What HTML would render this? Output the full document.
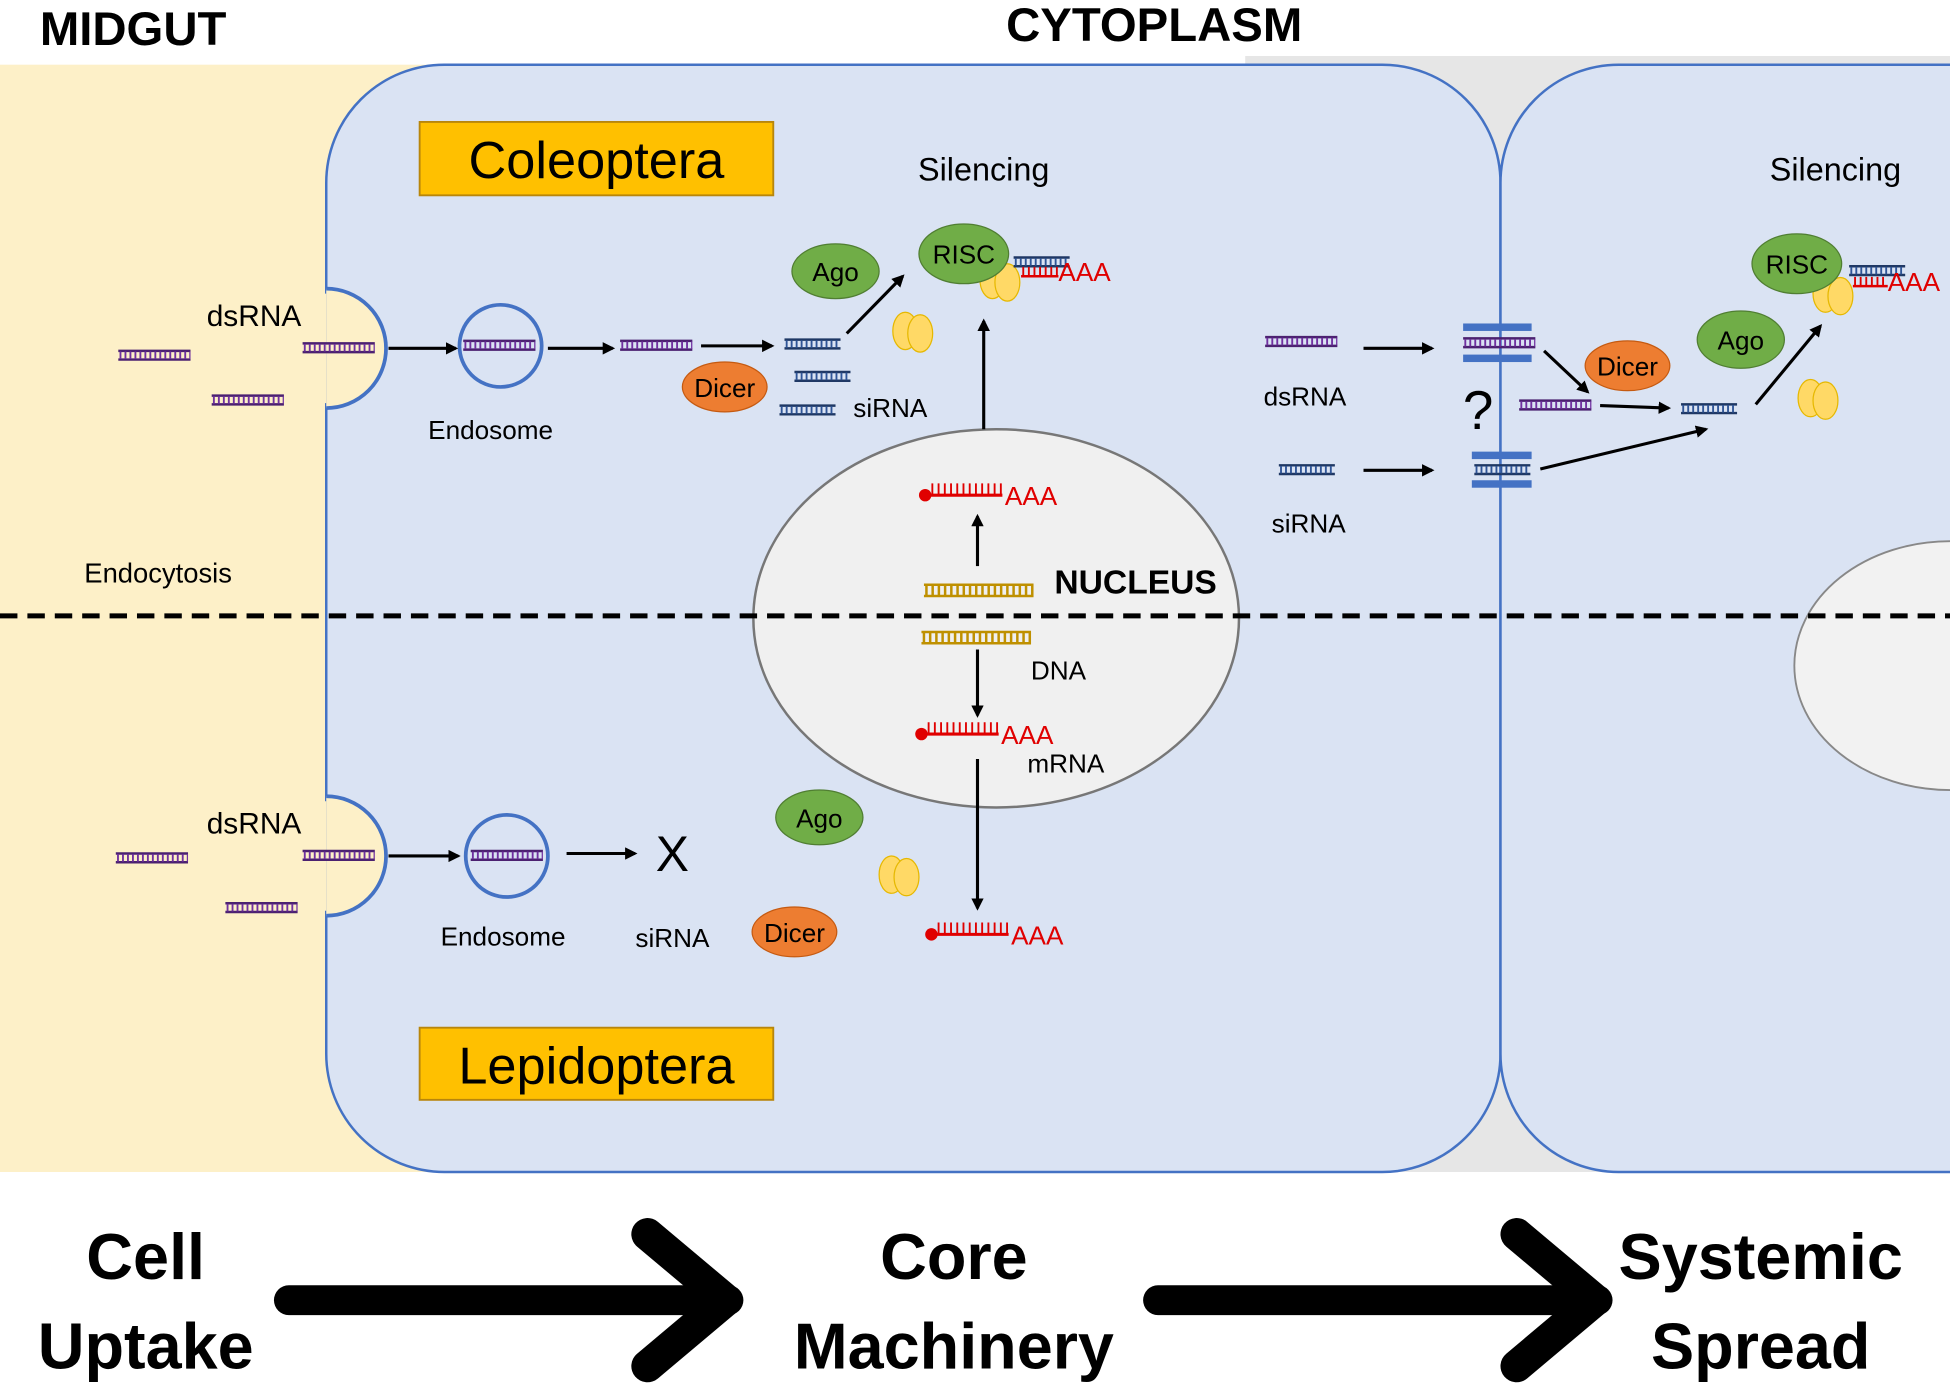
<!DOCTYPE html>
<html><head><meta charset="utf-8"><style>
html,body{margin:0;padding:0;background:#fff}
svg{display:block}
text{font-family:"Liberation Sans",sans-serif}
</style></head><body>
<svg width="1950" height="1386" viewBox="0 0 1566 1114" preserveAspectRatio="none" xmlns="http://www.w3.org/2000/svg">
<defs>
<marker id="ah" markerWidth="10" markerHeight="10" refX="8" refY="5" orient="auto" markerUnits="userSpaceOnUse"><path d="M0,0 L10,5 L0,10 z" fill="#000"/></marker>
<g id="ds"><line x1="0" y1="0" x2="58" y2="0" stroke="#4b2170" stroke-width="2"/><line x1="0" y1="7" x2="58" y2="7" stroke="#4b2170" stroke-width="2"/><line x1="1" y1="3.5" x2="58" y2="3.5" stroke="#7030a0" stroke-width="6" stroke-dasharray="1.5 2.5"/></g>
<g id="si"><line x1="0" y1="0" x2="45" y2="0" stroke="#1f3864" stroke-width="2"/><line x1="0" y1="7" x2="45" y2="7" stroke="#1f3864" stroke-width="2"/><line x1="1" y1="3.5" x2="45" y2="3.5" stroke="#2f5597" stroke-width="6" stroke-dasharray="1.5 2.5"/></g>
<g id="dna"><line x1="0" y1="0" x2="88" y2="0" stroke="#bf9000" stroke-width="2"/><line x1="0" y1="9" x2="88" y2="9" stroke="#bf9000" stroke-width="2"/><line x1="1" y1="4.5" x2="88" y2="4.5" stroke="#bf9000" stroke-width="8" stroke-dasharray="2 3"/></g>
<g id="mr"><circle cx="0" cy="0" r="5" fill="#e00000"/><line x1="0" y1="0" x2="62" y2="0" stroke="#e00000" stroke-width="2.5"/><line x1="5" y1="-5" x2="62" y2="-5" stroke="#e00000" stroke-width="9" stroke-dasharray="1.5 3.5"/><text x="64" y="8" font-size="21" fill="#e00000">AAA</text></g>
<g id="rib"><ellipse cx="-6" cy="0" rx="10" ry="15" fill="#ffd966" stroke="#e6b800"/><ellipse cx="6" cy="2" rx="10" ry="15" fill="#ffd966" stroke="#e6b800"/></g>
</defs>
<rect x="0" y="52" width="380" height="890" fill="#fdf0c8"/>
<rect x="1000" y="45" width="566" height="897" fill="#e6e6e6"/>
<rect x="262" y="52" width="943" height="890" rx="95" fill="#dae3f3" stroke="#4472c4" stroke-width="2"/>
<rect x="1205" y="52" width="460" height="890" rx="95" fill="#dae3f3" stroke="#4472c4" stroke-width="2"/>
<ellipse cx="1566" cy="535" rx="125" ry="100" fill="#f2f2f2" stroke="#888" stroke-width="1.5"/>
<ellipse cx="800" cy="497" rx="195" ry="152" fill="#f0f0f0" stroke="#777" stroke-width="2"/>
<!-- pits -->
<path d="M262,232 A48,48 0 0 1 262,328" fill="#fdf0c8" stroke="#4472c4" stroke-width="3"/>
<path d="M262,640 A48,48 0 0 1 262,736" fill="#fdf0c8" stroke="#4472c4" stroke-width="3"/>
<rect x="258" y="236" width="4" height="88" fill="#fdf0c8"/>
<rect x="258" y="644" width="4" height="88" fill="#fdf0c8"/>
<circle cx="402" cy="278" r="33" fill="#dae3f3" stroke="#4472c4" stroke-width="3"/>
<circle cx="407" cy="688" r="33" fill="#dae3f3" stroke="#4472c4" stroke-width="3"/>
<line x1="0" y1="495" x2="1566" y2="495" stroke="#000" stroke-width="4" stroke-dasharray="14 8"/>
<!-- labels -->
<text x="32" y="36" font-size="38" font-weight="bold">MIDGUT</text>
<text x="808" y="33" font-size="38" font-weight="bold">CYTOPLASM</text>
<rect x="337" y="98" width="284" height="59" fill="#ffc000" stroke="#b8860b" stroke-width="1.5"/>
<text x="479" y="143" font-size="42" text-anchor="middle">Coleoptera</text>
<rect x="337" y="826" width="284" height="58" fill="#ffc000" stroke="#b8860b" stroke-width="1.5"/>
<text x="479" y="871" font-size="42" text-anchor="middle">Lepidoptera</text>
<!-- top row -->
<use href="#ds" x="95" y="282"/><use href="#ds" x="170" y="318"/><use href="#ds" x="243" y="276"/>
<use href="#ds" x="372" y="274"/><use href="#ds" x="498" y="274"/>
<use href="#si" x="630" y="273"/><use href="#si" x="638" y="299"/><use href="#si" x="626" y="326"/>
<text x="204" y="262" font-size="24" text-anchor="middle">dsRNA</text>
<text x="394" y="353" font-size="21" text-anchor="middle">Endosome</text>
<text x="715" y="335" font-size="21" text-anchor="middle">siRNA</text>
<text x="790" y="145" font-size="26" text-anchor="middle">Silencing</text>
<text x="127" y="468" font-size="22" text-anchor="middle">Endocytosis</text>
<line x1="312" y1="280" x2="366" y2="280" stroke="#000" stroke-width="2.5" marker-end="url(#ah)"/>
<line x1="440" y1="280" x2="492" y2="280" stroke="#000" stroke-width="2.5" marker-end="url(#ah)"/>
<line x1="563" y1="278" x2="620" y2="278" stroke="#000" stroke-width="2.5" marker-end="url(#ah)"/>
<line x1="680" y1="268" x2="725" y2="222" stroke="#000" stroke-width="2.5" marker-end="url(#ah)"/>
<ellipse cx="582" cy="311" rx="34" ry="20" fill="#ed7d31" stroke="#c55a11"/><text x="582" y="319" font-size="21" text-anchor="middle">Dicer</text>
<ellipse cx="671" cy="218" rx="35" ry="22" fill="#70ad47" stroke="#507e32"/><text x="671" y="226" font-size="21" text-anchor="middle">Ago</text>
<use href="#rib" x="733" y="266"/><use href="#rib" x="803" y="225"/>
<ellipse cx="774" cy="204" rx="36" ry="24" fill="#70ad47" stroke="#507e32"/><text x="774" y="212" font-size="21" text-anchor="middle">RISC</text>
<use href="#si" x="814" y="207"/>
<g transform="translate(820,222)"><line x1="0" y1="0" x2="30" y2="0" stroke="#e00000" stroke-width="2"/><line x1="1" y1="-4" x2="30" y2="-4" stroke="#e00000" stroke-width="7" stroke-dasharray="1.5 3"/><text x="30" y="4" font-size="21" fill="#e00000">AAA</text></g>
<!-- nucleus -->
<line x1="790" y1="345" x2="790" y2="258" stroke="#000" stroke-width="2.5" marker-end="url(#ah)"/>
<use href="#mr" x="743" y="398"/>
<line x1="785" y1="455" x2="785" y2="415" stroke="#000" stroke-width="2.5" marker-end="url(#ah)"/>
<use href="#dna" x="742" y="470"/><use href="#dna" x="740" y="508"/>
<text x="912" y="477" font-size="27" font-weight="bold" text-anchor="middle">NUCLEUS</text>
<text x="850" y="546" font-size="21" text-anchor="middle">DNA</text>
<line x1="785" y1="522" x2="785" y2="575" stroke="#000" stroke-width="2.5" marker-end="url(#ah)"/>
<use href="#mr" x="740" y="590"/>
<text x="856" y="621" font-size="21" text-anchor="middle">mRNA</text>
<line x1="785" y1="610" x2="785" y2="730" stroke="#000" stroke-width="2.5" marker-end="url(#ah)"/>
<use href="#mr" x="748" y="751"/>
<!-- bottom row -->
<use href="#ds" x="93" y="686"/><use href="#ds" x="181" y="726"/><use href="#ds" x="243" y="684"/><use href="#ds" x="378" y="684"/>
<text x="204" y="670" font-size="24" text-anchor="middle">dsRNA</text>
<line x1="312" y1="688" x2="368" y2="688" stroke="#000" stroke-width="2.5" marker-end="url(#ah)"/>
<line x1="455" y1="686" x2="510" y2="686" stroke="#000" stroke-width="2.5" marker-end="url(#ah)"/>
<text x="540" y="700" font-size="40" text-anchor="middle">X</text>
<text x="404" y="760" font-size="21" text-anchor="middle">Endosome</text>
<text x="540" y="761" font-size="21" text-anchor="middle">siRNA</text>
<ellipse cx="658" cy="657" rx="35" ry="22" fill="#70ad47" stroke="#507e32"/><text x="658" y="665" font-size="21" text-anchor="middle">Ago</text>
<ellipse cx="638" cy="749" rx="34" ry="20" fill="#ed7d31" stroke="#c55a11"/><text x="638" y="757" font-size="21" text-anchor="middle">Dicer</text>
<use href="#rib" x="722" y="703"/>
<!-- right cell -->
<use href="#ds" x="1016" y="271"/>
<line x1="1095" y1="280" x2="1150" y2="280" stroke="#000" stroke-width="2.5" marker-end="url(#ah)"/>
<text x="1048" y="326" font-size="21" text-anchor="middle">dsRNA</text>
<use href="#si" x="1027" y="374"/>
<line x1="1095" y1="378" x2="1150" y2="378" stroke="#000" stroke-width="2.5" marker-end="url(#ah)"/>
<text x="1051" y="428" font-size="21" text-anchor="middle">siRNA</text>
<rect x="1175" y="260" width="55" height="6" fill="#4472c4"/><rect x="1175" y="285" width="55" height="6" fill="#4472c4"/>
<use href="#ds" x="1175" y="272"/>
<rect x="1182" y="363" width="48" height="6" fill="#4472c4"/><rect x="1182" y="386" width="48" height="6" fill="#4472c4"/>
<use href="#si" x="1184" y="374"/>
<text x="1187" y="345" font-size="44" text-anchor="middle">?</text>
<line x1="1240" y1="282" x2="1275" y2="315" stroke="#000" stroke-width="2.5" marker-end="url(#ah)"/>
<use href="#ds" x="1220" y="322"/>
<line x1="1285" y1="326" x2="1340" y2="328" stroke="#000" stroke-width="2.5" marker-end="url(#ah)"/>
<use href="#si" x="1350" y="325"/>
<ellipse cx="1307" cy="294" rx="34" ry="20" fill="#ed7d31" stroke="#c55a11"/><text x="1307" y="302" font-size="21" text-anchor="middle">Dicer</text>
<line x1="1237" y1="377" x2="1370" y2="345" stroke="#000" stroke-width="2.5" marker-end="url(#ah)"/>
<ellipse cx="1398" cy="273" rx="35" ry="23" fill="#70ad47" stroke="#507e32"/><text x="1398" y="281" font-size="21" text-anchor="middle">Ago</text>
<line x1="1410" y1="325" x2="1462" y2="262" stroke="#000" stroke-width="2.5" marker-end="url(#ah)"/>
<use href="#rib" x="1460" y="320"/><use href="#rib" x="1472" y="236"/>
<ellipse cx="1443" cy="212" rx="36" ry="24" fill="#70ad47" stroke="#507e32"/><text x="1443" y="220" font-size="21" text-anchor="middle">RISC</text>
<use href="#si" x="1485" y="214"/>
<g transform="translate(1488,230)"><line x1="0" y1="0" x2="28" y2="0" stroke="#e00000" stroke-width="2"/><line x1="1" y1="-4" x2="28" y2="-4" stroke="#e00000" stroke-width="7" stroke-dasharray="1.5 3"/><text x="28" y="4" font-size="21" fill="#e00000">AAA</text></g>
<text x="1474" y="145" font-size="26" text-anchor="middle">Silencing</text>
<!-- bottom flow -->
<g font-size="52" font-weight="bold" text-anchor="middle">
<text x="117" y="1028">Cell</text><text x="117" y="1100">Uptake</text>
<text x="766" y="1028">Core</text><text x="766" y="1100">Machinery</text>
<text x="1414" y="1028">Systemic</text><text x="1414" y="1100">Spread</text>
</g>
<line x1="232" y1="1045" x2="585" y2="1045" stroke="#000" stroke-width="24" stroke-linecap="round"/>
<polyline points="520,992 583,1045 520,1098" fill="none" stroke="#000" stroke-width="26" stroke-linecap="round" stroke-linejoin="round"/>
<line x1="930" y1="1045" x2="1283" y2="1045" stroke="#000" stroke-width="24" stroke-linecap="round"/>
<polyline points="1218,992 1281,1045 1218,1098" fill="none" stroke="#000" stroke-width="26" stroke-linecap="round" stroke-linejoin="round"/>
</svg>
</body></html>
